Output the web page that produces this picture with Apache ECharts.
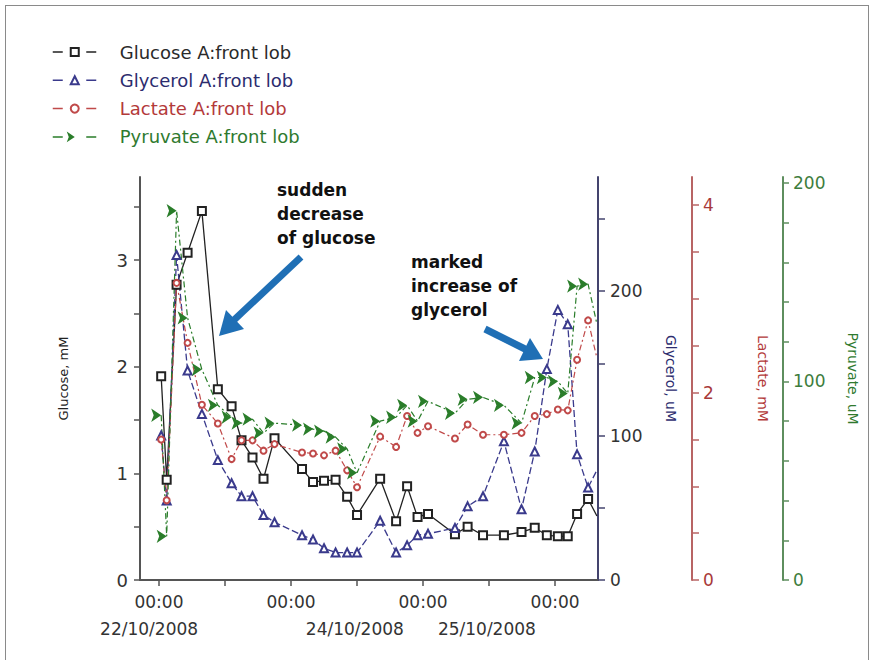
<!DOCTYPE html>
<html><head><meta charset="utf-8">
<script src="https://cdn.jsdelivr.net/npm/echarts@6/dist/echarts.min.js"></script>
<style>
html,body{margin:0;padding:0;background:#fff;}
#chart{width:875px;height:660px;position:absolute;left:0;top:0;}
#frame{position:absolute;left:5px;top:5px;width:862px;height:700px;border:1px solid #8a8a8a;pointer-events:none;}
</style></head><body>
<div id="chart"></div><div id="frame"></div>
<script>
// ---- data (hours since 00:00 22/10/2008) ----
const timeHours = [0.4, 1.4, 3.2, 5.2, 7.8, 10.7, 13.2, 15.0, 17.0, 19.0, 21.0, 26.0, 28.0, 30.0, 32.1, 34.2, 36.0, 40.2, 43.1, 45.1, 47.0, 48.9, 53.8, 56.1, 58.9, 62.7, 65.9, 68.3, 70.5, 72.5, 74.3, 76.0, 78.0, 79.6];
const glucose  = [1.91, 0.94, 2.77, 3.07, 3.46, 1.79, 1.63, 1.31, 1.15, 0.95, 1.33, 1.04, 0.92, 0.93, 0.94, 0.78, 0.61, 0.95, 0.55, 0.88, 0.59, 0.62, 0.43, 0.50, 0.42, 0.42, 0.45, 0.49, 0.42, 0.41, 0.41, 0.62, 0.76, 0.60];
const glycerol = [100, 55, 225, 145, 115, 83, 67, 58, 58, 45, 40, 31, 28, 22, 19, 19, 19, 41, 19, 24, 31, 32, 36, 51, 58, 96, 49, 89, 146, 187, 177, 87, 64, 76];
const lactate  = [1.50, 0.85, 3.17, 2.53, 1.87, 1.67, 1.29, 1.49, 1.49, 1.38, 1.45, 1.36, 1.35, 1.33, 1.38, 1.17, 0.99, 1.53, 1.42, 1.75, 1.57, 1.64, 1.51, 1.66, 1.55, 1.55, 1.57, 1.75, 1.77, 1.82, 1.81, 2.35, 2.77, 2.37];
const pyruvate = [83, 22, 186, 132, 106, 88, 82, 79, 81, 74, 79, 78, 76, 75, 72, 66, 54, 80, 82, 88, 80, 90, 84, 91, 92, 88, 79, 102, 102, 100, 94, 148, 149, 129];

const seriesNames = ['Glucose A:front lob', 'Glycerol A:front lob', 'Lactate A:front lob', 'Pyruvate A:front lob'];

// ---- ticks and tick labels ----
const xTickHours = [0, 12, 24, 36, 48, 60, 72];
const xLabelHours = [0, 24, 48, 72];
const xLabels = ['00:00', '00:00', '00:00', '00:00'];
const dateLabelHours = [-1.8, 35.6, 59.6];
const dateLabels = ['22/10/2008', '24/10/2008', '25/10/2008'];

const glucoseLabels = [0, 1, 2, 3];
const glucoseTicks = [0, 0.5, 1, 1.5, 2, 2.5, 3, 3.5];
const glycerolLabels = [0, 100, 200];
const glycerolTicks = [0, 50, 100, 150, 200, 250];
const lactateLabels = [0, 2, 4];
const lactateTicks = [0, 0.5, 1, 1.5, 2, 2.5, 3, 3.5, 4];
const pyruvateLabels = [0, 100, 200];
const pyruvateTicks = [0, 20, 40, 60, 80, 100, 120, 140, 160, 180, 200];

const axisNames = ['Glucose, mM', 'Glycerol, uM', 'Lactate, mM', 'Pyruvate, uM'];

// ---- styling ----
const C = {
  glu: '#222222', gly: '#3a3a8c', lac: '#c04a4a', pyr: '#2a7d2a',
  gluAxis: '#555555', glyAxis: '#44446e', lacAxis: '#b86464', pyrAxis: '#5e8e5e',
  gluTxt: '#2a2a2a', glyTxt: '#2c2c6e', lacTxt: '#b33a3a', pyrTxt: '#2f7a2f'
};
const FONT = 'DejaVu Sans';

function pairs(vals) {
  const last = timeHours.length - 1;
  return timeHours.map((t, i) => i === last ? { value: [t, vals[i]], symbol: 'none' } : [t, vals[i]]);
}
function findLabel(v, vals, labels) {
  const i = vals.findIndex(x => Math.abs(x - v) < 1e-6);
  return i >= 0 ? labels[i] : '';
}

function yAxisDef(o) {
  return {
    type: 'value', min: 0, max: o.max, position: o.position, offset: o.offset,
    splitLine: { show: false },
    axisLine: { show: true, onZero: false, lineStyle: { color: o.axisColor, width: 2 } },
    axisTick: { show: true, inside: false, length: o.tickLen, customValues: o.ticks, lineStyle: { color: o.axisColor, width: 1.5 } },
    axisLabel: { show: true, customValues: o.labels, margin: o.margin, color: o.labelColor, fontFamily: FONT, fontSize: o.fontSize,
      formatter: v => String(v) },
    name: o.name, nameLocation: 'middle', nameGap: o.nameGap, nameRotate: o.nameRotate,
    nameTextStyle: { color: o.nameColor, fontFamily: FONT, fontSize: o.nameSize }
  };
}

const yAxes = [
  yAxisDef({ max: 3.78, position: 'left', offset: 0, axisColor: C.gluAxis, ticks: glucoseTicks, labels: glucoseLabels, tickLen: 6,
    margin: 12, labelColor: '#333', fontSize: 18, name: axisNames[0], nameGap: 70, nameRotate: 90, nameColor: '#222', nameSize: 13 }),
  yAxisDef({ max: 279, position: 'right', offset: 0, axisColor: C.glyAxis, ticks: glycerolTicks, labels: glycerolLabels, tickLen: 7,
    margin: 12, labelColor: '#333', fontSize: 17, name: axisNames[1], nameGap: 66, nameRotate: -90, nameColor: C.glyTxt, nameSize: 14 }),
  yAxisDef({ max: 4.3, position: 'right', offset: 94, axisColor: C.lacAxis, ticks: lactateTicks, labels: lactateLabels, tickLen: 7,
    margin: 11, labelColor: '#a83a3a', fontSize: 17, name: axisNames[2], nameGap: 64, nameRotate: -90, nameColor: C.lacTxt, nameSize: 14 }),
  yAxisDef({ max: 203, position: 'right', offset: 185, axisColor: C.pyrAxis, ticks: pyruvateTicks, labels: pyruvateLabels, tickLen: 6,
    margin: 10, labelColor: '#3d7d3d', fontSize: 17, name: axisNames[3], nameGap: 63, nameRotate: -90, nameColor: C.pyrTxt, nameSize: 14 })
];

const xCommon = { type: 'value', min: -3.45, max: 79.8, position: 'bottom', splitLine: { show: false } };
const xAxes = [
  Object.assign({}, xCommon, {
    axisLine: { show: true, onZero: false, lineStyle: { color: '#555', width: 2 } },
    axisTick: { show: true, length: 6, customValues: xTickHours, lineStyle: { color: '#555', width: 1.5 } },
    axisLabel: { show: true, customValues: xLabelHours, margin: 13, color: '#333', fontFamily: FONT, fontSize: 17,
      formatter: v => findLabel(v, xLabelHours, xLabels) }
  }),
  Object.assign({}, xCommon, {
    axisLine: { show: false, onZero: false },
    axisTick: { show: false },
    axisLabel: { show: true, customValues: dateLabelHours, margin: 40, color: '#333', fontFamily: FONT, fontSize: 17,
      formatter: v => findLabel(v, dateLabelHours, dateLabels) }
  })
];

const series = [
  { name: seriesNames[0], type: 'line', xAxisIndex: 0, yAxisIndex: 0, data: pairs(glucose),
    symbol: 'emptyRect', symbolSize: 8, color: C.glu,
    itemStyle: { color: C.glu, borderWidth: 1.6 }, lineStyle: { color: C.glu, width: 1.3 } },
  { name: seriesNames[1], type: 'line', xAxisIndex: 0, yAxisIndex: 1, data: pairs(glycerol),
    symbol: 'emptyTriangle', symbolSize: 8, color: C.gly,
    itemStyle: { color: C.gly, borderWidth: 1.4 }, lineStyle: { color: C.gly, width: 1.3, type: [7, 3] } },
  { name: seriesNames[2], type: 'line', xAxisIndex: 0, yAxisIndex: 2, data: pairs(lactate),
    symbol: 'emptyCircle', symbolSize: 6, color: C.lac,
    itemStyle: { color: C.lac, borderWidth: 1.4 }, lineStyle: { color: C.lac, width: 1.2, type: [6, 3, 2, 3] } },
  { name: seriesNames[3], type: 'line', xAxisIndex: 0, yAxisIndex: 3, data: pairs(pyruvate),
    symbol: 'arrow', symbolRotate: -90, symbolSize: 10, color: C.pyr,
    itemStyle: { color: C.pyr }, lineStyle: { color: C.pyr, width: 1.2, type: [6, 3, 2, 3] } }
];
series.forEach(s => { s.animation = false; s.z = 3; });

const arrowBlue = '#1f6fb5';
const option = {
  animation: false,
  backgroundColor: '#ffffff',
  grid: { left: 140, right: 277, top: 177, bottom: 80, containLabel: false, outerBoundsMode: 'none' },
  legend: {
    orient: 'vertical', left: 47, top: 37, itemWidth: 44, itemHeight: 10, itemGap: 8.3,
    lineStyle: { type: [10, 23.5], width: 1.5 },
    textStyle: { fontFamily: FONT, fontSize: 18, lineHeight: 20, padding: [0, 0, 0, 18] },
    data: [
      { name: seriesNames[0], textStyle: { color: C.gluTxt } },
      { name: seriesNames[1], textStyle: { color: C.glyTxt } },
      { name: seriesNames[2], textStyle: { color: C.lacTxt } },
      { name: seriesNames[3], textStyle: { color: C.pyrTxt } }
    ]
  },
  xAxis: xAxes,
  yAxis: yAxes,
  series: series,
  graphic: [
    { type: 'text', x: 277, y: 178, z: 10,
      style: { text: 'sudden\ndecrease\nof glucose', fill: '#111', fontFamily: FONT, fontWeight: 'bold', fontSize: 17, lineHeight: 24 } },
    { type: 'text', x: 411, y: 250, z: 10,
      style: { text: 'marked\nincrease of\nglycerol', fill: '#111', fontFamily: FONT, fontWeight: 'bold', fontSize: 17, lineHeight: 24 } },
    { type: 'polyline', z: 10, shape: { points: [[301, 257], [234, 320]] }, style: { stroke: arrowBlue, lineWidth: 7 } },
    { type: 'polygon', z: 10, shape: { points: [[219, 336], [226, 310], [244, 329]] }, style: { fill: arrowBlue } },
    { type: 'polyline', z: 10, shape: { points: [[485, 329], [527, 350]] }, style: { stroke: arrowBlue, lineWidth: 7 } },
    { type: 'polygon', z: 10, shape: { points: [[543, 359], [530, 338], [519, 361]] }, style: { fill: arrowBlue } }
  ]
};

const chart = echarts.init(document.getElementById('chart'), null, { renderer: 'svg' });
chart.setOption(option);
</script>
</body></html>
